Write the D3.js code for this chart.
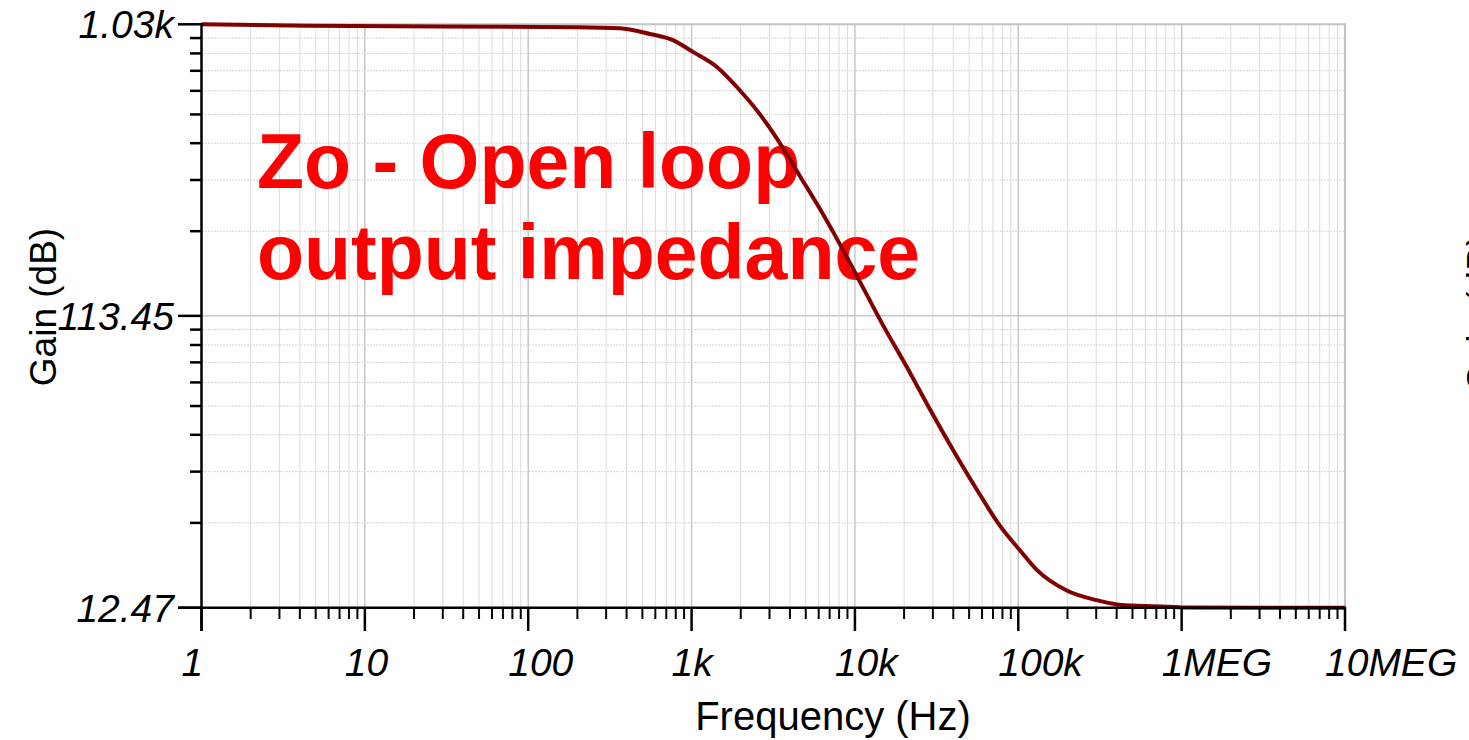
<!DOCTYPE html>
<html>
<head>
<meta charset="utf-8">
<script src="https://cdn.jsdelivr.net/npm/d3@7"></script>
<style>
  body { margin: 0; background: #fff; overflow: hidden; }
  svg { display: block; font-family: "Liberation Sans", Arial, sans-serif; }
</style>
</head>
<body>
<svg width="1469" height="740"></svg>
<script>
// data
var freq = [1, 4.5, 200, 364, 556, 769, 1019, 1429, 1893, 2510, 3330, 4600, 6100, 7320,
  10720, 14820, 20790, 28720, 39720, 55700, 77100, 102000, 129800, 198000, 302000,
  401000, 502000, 846000, 1000000, 10000000];
var zo = [1030, 1018, 1008, 1000, 957, 914, 836, 746, 641, 537, 434, 327, 255, 215,
  147, 106, 77, 56.1, 41.3, 30.5, 23.2, 19.3, 16.6, 14.2, 13.2,
  12.78, 12.67, 12.56, 12.49, 12.47];

var xTickValues = [1, 10, 100, 1e3, 1e4, 1e5, 1e6, 1e7];
var xTickLabels = ["1", "10", "100", "1k", "10k", "100k", "1MEG", "10MEG"];
var yTickValues = [12.47, 113.45, 1030];
var yTickLabels = ["12.47", "113.45", "1.03k"];

var svg = d3.select("svg");

var x = d3.scaleLog().domain([1, 1e7]).range([201.5, 1345]);
var y = d3.scaleLog().domain([12.47, 1030]).range([607.7, 24.3]);

// minor values: every 1..9 per decade on x, 9 equal steps between labels on y
var xMinor = [];
for (var d = 0; d < 7; d++) {
  for (var k = 2; k < 10; k++) xMinor.push(k * Math.pow(10, d));
}
var yMinor = [];
for (var i = 0; i < yTickValues.length - 1; i++) {
  var step = (yTickValues[i + 1] - yTickValues[i]) / 9;
  for (var j = 1; j < 9; j++) yMinor.push(yTickValues[i] + j * step);
}

// grid
var grid = svg.append("g");
grid.selectAll(".vminor").data(xMinor).enter().append("line")
  .attr("x1", d => x(d)).attr("x2", d => x(d))
  .attr("y1", 24).attr("y2", 607)
  .attr("stroke", "#dcdcdc").attr("stroke-width", 1);
grid.selectAll(".vmajor").data(xTickValues.slice(1, -1)).enter().append("line")
  .attr("x1", d => x(d)).attr("x2", d => x(d))
  .attr("y1", 24).attr("y2", 607)
  .attr("stroke", "#c8c8c8").attr("stroke-width", 1.5);
grid.selectAll(".hminor").data(yMinor).enter().append("line")
  .attr("x1", 202).attr("x2", 1345)
  .attr("y1", d => y(d)).attr("y2", d => y(d))
  .attr("stroke", "#d6d6d6").attr("stroke-width", 1)
  .attr("stroke-dasharray", "2,1");
grid.append("line")
  .attr("x1", 202).attr("x2", 1345)
  .attr("y1", y(113.45)).attr("y2", y(113.45))
  .attr("stroke", "#c8c8c8").attr("stroke-width", 1.5);

// frame top / right
svg.append("path")
  .attr("d", "M201.5," + y(1030) + "H" + x(1e7) + "V607.7")
  .attr("fill", "none").attr("stroke", "#c4c4c4").attr("stroke-width", 2);

// annotation
var note = svg.append("text")
  .attr("fill", "#ff0000")
  .attr("font-weight", "bold")
  .attr("font-size", 77);
note.append("tspan").attr("x", 257).attr("y", 188).text("Zo - Open loop");
note.append("tspan").attr("x", 257).attr("y", 279).text("output impedance");

// curve
var line = d3.line()
  .x((d, i) => x(freq[i]))
  .y(d => y(d))
  .curve(d3.curveMonotoneX);

svg.append("path")
  .datum(zo)
  .attr("d", line)
  .attr("fill", "none")
  .attr("stroke", "#800000")
  .attr("stroke-width", 4);

// axes
var axes = svg.append("g").attr("stroke", "#000");
axes.append("line").attr("x1", 201.5).attr("x2", 201.5)
  .attr("y1", 23).attr("y2", 631).attr("stroke-width", 2.5);
axes.append("line").attr("x1", 178).attr("x2", 1346)
  .attr("y1", 607.7).attr("y2", 607.7).attr("stroke-width", 2.5);

axes.selectAll(".xmin").data(xMinor).enter().append("line")
  .attr("x1", d => x(d)).attr("x2", d => x(d))
  .attr("y1", 607).attr("y2", 619).attr("stroke-width", 2);
axes.selectAll(".xmaj").data(xTickValues).enter().append("line")
  .attr("x1", d => x(d)).attr("x2", d => x(d))
  .attr("y1", 607).attr("y2", 631).attr("stroke-width", 2.5);
axes.selectAll(".ymin").data(yMinor).enter().append("line")
  .attr("x1", 190).attr("x2", 201.5)
  .attr("y1", d => y(d)).attr("y2", d => y(d)).attr("stroke-width", 2.5);
axes.selectAll(".ymaj").data(yTickValues).enter().append("line")
  .attr("x1", 178).attr("x2", 201.5)
  .attr("y1", d => y(d)).attr("y2", d => y(d)).attr("stroke-width", 2.5);

// tick labels
svg.selectAll(".xlab").data(xTickValues).enter().append("text")
  .attr("x", d => x(d) - 20)
  .attr("y", 676)
  .attr("font-size", 39)
  .attr("font-style", "italic")
  .text((d, i) => xTickLabels[i]);

svg.selectAll(".ylab").data(yTickValues).enter().append("text")
  .attr("x", 174)
  .attr("y", d => y(d) + 14)
  .attr("text-anchor", "end")
  .attr("font-size", 39)
  .attr("font-style", "italic")
  .text((d, i) => yTickLabels[i]);

// axis titles
svg.append("text")
  .attr("x", 833).attr("y", 730)
  .attr("text-anchor", "middle")
  .attr("font-size", 40)
  .text("Frequency (Hz)");

svg.append("text")
  .attr("transform", "translate(56,307) rotate(-90)")
  .attr("text-anchor", "middle")
  .attr("font-size", 37)
  .text("Gain (dB)");

// second axis title, cut by the right edge as in the original
svg.append("text")
  .attr("transform", "translate(1493,313) rotate(-90)")
  .attr("text-anchor", "middle")
  .attr("font-size", 37)
  .text("Gain (dB)");
</script>
</body>
</html>
